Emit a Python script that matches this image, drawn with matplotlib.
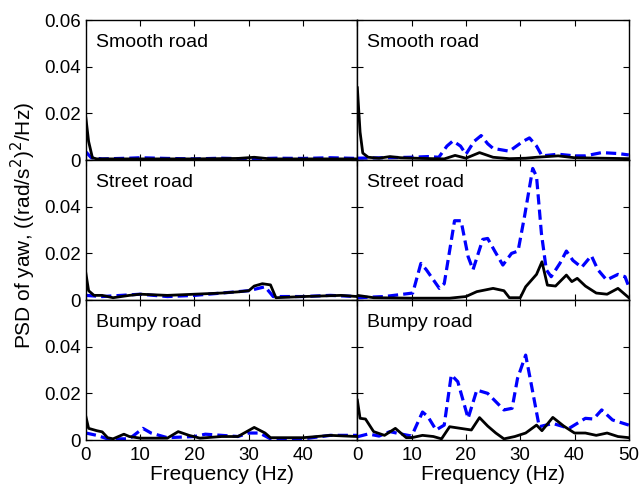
import numpy as np
import matplotlib
matplotlib.use('Agg')
import matplotlib.pyplot as plt

plt.rcParams['font.family'] = ['Liberation Sans', 'DejaVu Sans']
plt.rcParams['font.size'] = 13

# ---- data (Hz, PSD) ----
# Smooth road, left column
smooth_l_f_k = [0, 0.5, 1.2, 2, 5, 10, 20, 28, 31, 34, 40, 50]
smooth_l_k = [0.018, 0.008, 0.001, 0.0005, 0.0005, 0.0005, 0.0005, 0.0007, 0.0012, 0.0005, 0.0005, 0.0005]
smooth_l_f_b = [0, 1, 3, 8, 10, 15, 20, 25, 30, 35, 40, 45, 50]
smooth_l_b = [0.0035, 0.001, 0.0005, 0.0008, 0.001, 0.0007, 0.0005, 0.0008, 0.0005, 0.0008, 0.0007, 0.001, 0.0007]

# Smooth road, right column
smooth_r_f_k = [0, 0.5, 1, 2, 4, 6, 8, 12, 16, 18, 20, 22.5, 25, 28, 31, 33, 37, 40, 45, 50]
smooth_r_k = [0.031, 0.012, 0.003, 0.0012, 0.0008, 0.0015, 0.001, 0.0007, 0.0005, 0.002, 0.0008, 0.0032, 0.0012, 0.0006, 0.0008, 0.0012, 0.0018, 0.001, 0.0008, 0.0006]
smooth_r_f_b = [0, 5, 10, 13, 15, 16.5, 17.6, 19, 20, 21.5, 22.8, 24, 25, 28, 30.5, 31.7, 33, 34, 37, 40, 42, 45, 48, 50]
smooth_r_b = [0.0008, 0.001, 0.0012, 0.0015, 0.0012, 0.006, 0.0082, 0.006, 0.0025, 0.008, 0.0105, 0.007, 0.005, 0.0038, 0.008, 0.0095, 0.006, 0.0018, 0.0025, 0.0018, 0.0018, 0.0032, 0.0028, 0.0022]

# Street road, left column
street_l_f_k = [0, 0.5, 1.5, 3, 5, 8, 10, 15, 20, 25, 28, 30, 31, 32.5, 34, 35, 40, 47, 50]
street_l_k = [0.0114, 0.004, 0.002, 0.002, 0.001, 0.002, 0.0025, 0.002, 0.0025, 0.003, 0.0035, 0.004, 0.006, 0.007, 0.0065, 0.001, 0.0015, 0.002, 0.0015]
street_l_f_b = [0, 3, 10, 15, 20, 25, 30, 33, 34.5, 40, 45, 50]
street_l_b = [0.002, 0.0015, 0.0025, 0.0015, 0.002, 0.003, 0.004, 0.0057, 0.0015, 0.0015, 0.002, 0.0015]

# Street road, right column
street_r_f_k = [0, 3, 10, 17, 20, 22, 25, 27, 28, 30, 31, 33, 34, 35, 36.5, 38.5, 39.5, 40.5, 42, 44, 46, 48, 50]
street_r_k = [0.002, 0.001, 0.0008, 0.0008, 0.0015, 0.0036, 0.005, 0.004, 0.001, 0.001, 0.0057, 0.011, 0.0164, 0.0064, 0.006, 0.0107, 0.0079, 0.0093, 0.006, 0.003, 0.0025, 0.005, 0.001]
street_r_f_b = [0, 5, 10.2, 11.7, 12.7, 15.1, 16, 17.9, 19.1, 20.4, 21.3, 23.1, 24, 25.3, 26.8, 28.4, 29.6, 30.8, 32.3, 33, 33.9, 34.8, 35.7, 37.3, 38.5, 39.7, 41.3, 43.1, 44.3, 45.9, 48, 49.3, 50]
street_r_b = [0.001, 0.0015, 0.003, 0.0157, 0.013, 0.005, 0.007, 0.034, 0.034, 0.0186, 0.013, 0.026, 0.0264, 0.021, 0.015, 0.02, 0.021, 0.036, 0.0564, 0.053, 0.0286, 0.013, 0.01, 0.0157, 0.021, 0.017, 0.014, 0.019, 0.013, 0.0086, 0.011, 0.01, 0.0057]

# Bumpy road, left column
bumpy_l_f_k = [0, 0.5, 2, 3, 4, 5, 7, 8, 10, 15, 17, 19, 21, 25, 28, 31, 33, 34, 40, 45, 50]
bumpy_l_k = [0.01, 0.005, 0.004, 0.0035, 0.001, 0.0005, 0.0025, 0.0015, 0.0008, 0.0008, 0.0036, 0.002, 0.0008, 0.0015, 0.0015, 0.0054, 0.003, 0.001, 0.001, 0.002, 0.0015]
bumpy_l_f_b = [0, 2, 4, 8, 10.5, 12, 15, 20, 22, 28, 30, 32, 34, 40, 45, 50]
bumpy_l_b = [0.003, 0.002, 0.0005, 0.0005, 0.005, 0.003, 0.001, 0.0015, 0.0025, 0.0015, 0.003, 0.003, 0.0005, 0.0005, 0.002, 0.002]

# Bumpy road, right column
bumpy_r_f_k = [0, 0.5, 1.5, 3, 5, 7, 9, 10, 12, 14, 15.5, 17, 19, 21, 22.5, 24, 25.5, 27, 29, 31, 33, 34, 36, 38, 40, 42, 44, 46, 48, 50]
bumpy_r_k = [0.0171, 0.0093, 0.009, 0.0036, 0.002, 0.005, 0.001, 0.001, 0.002, 0.0015, 0.0005, 0.0057, 0.005, 0.0043, 0.0096, 0.006, 0.003, 0.0005, 0.0015, 0.003, 0.0064, 0.004, 0.0097, 0.006, 0.003, 0.003, 0.002, 0.003, 0.0015, 0.001]
bumpy_r_f_b = [0, 2, 4, 6, 8, 10, 12, 13, 14.5, 16, 17.3, 18.5, 20.4, 22, 24, 27, 28.5, 29.5, 31, 32, 33.5, 36, 39, 42, 43.5, 45, 47, 50]
bumpy_r_b = [0.0014, 0.0026, 0.0017, 0.0036, 0.0026, 0.0017, 0.012, 0.01, 0.0043, 0.0064, 0.0279, 0.025, 0.0093, 0.0214, 0.02, 0.0129, 0.0136, 0.0264, 0.0364, 0.0243, 0.0057, 0.0071, 0.005, 0.0093, 0.009, 0.0129, 0.0086, 0.0064]

titles = ['Smooth road', 'Street road', 'Bumpy road']
black_series = [[(smooth_l_f_k, smooth_l_k), (smooth_r_f_k, smooth_r_k)],
                [(street_l_f_k, street_l_k), (street_r_f_k, street_r_k)],
                [(bumpy_l_f_k, bumpy_l_k), (bumpy_r_f_k, bumpy_r_k)]]
blue_series = [[(smooth_l_f_b, smooth_l_b), (smooth_r_f_b, smooth_r_b)],
               [(street_l_f_b, street_l_b), (street_r_f_b, street_r_b)],
               [(bumpy_l_f_b, bumpy_l_b), (bumpy_r_f_b, bumpy_r_b)]]

fig, axes = plt.subplots(3, 2, figsize=(6.41, 4.9), dpi=100)
fig.subplots_adjust(left=0.134, right=0.981, top=0.959, bottom=0.102, hspace=0, wspace=0)

for r in range(3):
    for c in range(2):
        ax = axes[r, c]
        fb, vb = blue_series[r][c]
        fk, vk = black_series[r][c]
        ax.plot(fb, vb, color='#0000ff', lw=2.3, ls=(0, (3.2, 1.6)))
        ax.plot(fk, vk, color='black', lw=2.0)
        ax.set_xlim(0, 50)
        ax.set_ylim(0, 0.06)
        ax.set_xticks([0, 10, 20, 30, 40, 50])
        ax.set_yticks([0, 0.02, 0.04, 0.06])
        ax.tick_params(direction='in', top=True, right=True, length=4, width=0.8, labelsize=13.5)
        ax.tick_params(axis='x', pad=5)
        ax.text(0.037, 0.84, titles[r], transform=ax.transAxes, va='center', ha='left', fontsize=14)
        for s in ax.spines.values():
            s.set_linewidth(1.0)
        # tick labels
        if c == 0:
            if r == 0:
                ax.set_yticklabels(['0', '0.02', '0.04', '0.06'])
            else:
                ax.set_yticklabels(['0', '0.02', '0.04', ''])
        else:
            ax.set_yticklabels([])
        if r == 2:
            if c == 0:
                ax.set_xticklabels(['0', '10', '20', '30', '40', ''])
            else:
                ax.set_xticklabels(['0', '10', '20', '30', '40', '50'])
            ax.set_xlabel('Frequency (Hz)', fontsize=15, labelpad=1)
        else:
            ax.set_xticklabels([])

fig.text(0.036, 0.54, 'PSD of yaw, ((rad/s$^2$)$^2$/Hz)', rotation=90, va='center', ha='center', fontsize=15)

fig.savefig('out.png', dpi=100)
